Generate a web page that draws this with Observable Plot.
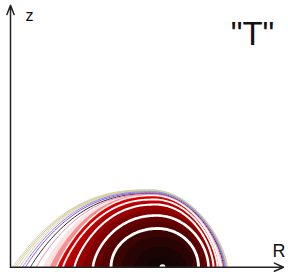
<!DOCTYPE html>
<html><head><meta charset="utf-8">
<script src="https://cdn.jsdelivr.net/npm/d3@7"></script>
<script src="https://cdn.jsdelivr.net/npm/@observablehq/plot@0.6"></script>
<style>html,body{margin:0;padding:0;background:#fff;} svg{display:block}</style>
</head><body><div id="chart"></div>
<script>
// Contours of T (outer -> inner) (R, z units = px from origin)
const contourT     = [0, .01, .02, .03, .04, .05, .06, .07, .1, .2, .3, .35, .4, .45, .5, .6, .7, .75, .8, .85, .9, .95];
const contourKind  = ["edge","edge","edge","edge","edge","edge","edge","edge",
                      "fill","fill","ring","fill","ring","fill","ring","fill","ring","fill","ring","fill","fill","fill"];
const contourLeft  = [2, 4, 6, 9, 12, 15, 20, 26, 33, 40, 46, 49.5, 52.5, 57, 64, 73, 82.5, 91, 100.5, 112, 125, 137];
const contourRight = [217, 216.5, 216, 215.5, 215, 214, 213, 212, 211, 210, 209, 208, 207, 205, 203, 200.5, 198, 193, 188, 183, 176, 168];
const contourTop   = [77.5, 77, 76.5, 76, 75.5, 74.5, 73.5, 73, 72.5, 72.2, 71.7, 69.5, 67.7, 65, 62.7, 57, 51.7, 45, 38.7, 30, 20, 10];
const contourPeak  = [140, 140, 140, 140.5, 141, 141, 141.5, 142, 142, 142.5, 143, 143.5, 144, 144.5, 145, 145.5, 146, 146.5, 147, 149, 151, 152];
const contourShape = [1, 1, .98, .96, .94, .92, .9, .88, .86, .83, .8, .76, .7, .62, .55, .4, .3, .15, 0, 0, 0, 0];
const magneticAxis = [{R: 152, z: 0}];
const axisLabels = [{R: 15, z: 246.7, text: "z", size: 16},
                    {R: 262, z: 10.7, text: "R", size: 18}];
const titleText = [{R: 242, z: 222.7, text: "\"T\""}];

// style
const edgePalette = ["#e2cf96","#a6d4f0","#f0cf45","#f4b2c8","#5b9fe0","#a945d2","#2e2e2e","#ec8cb0"];
const tStops  = [0, 0.08, 0.1, 0.2, 0.3, 0.4, 0.5, 0.6, 0.7, 0.75, 0.8, 0.85, 0.9, 1];
const tColors = ["#ffffff","#ffffff","#fde2e2","#f49090","#e40000","#c80000","#9a0000","#7e0000","#640000","#560202","#3a0404","#280404","#1a0404","#0e0303"];

const N = 50;
const pts = [];
contourT.forEach((T, i) => {
  const L = contourLeft[i], Rr = contourRight[i], H = contourTop[i], P = contourPeak[i], t = contourShape[i];
  const a = 2 + 0.5 * t, b = 0.5 + 0.5 * t, c = 2, d = 0.5 + 0.2 * t;
  for (let k = 0; k <= N; k++) {
    const v = 1 - Math.cos(k / N * Math.PI / 2);
    pts.push({id: i, T, kind: contourKind[i], R: L + v * (P - L), z: H * Math.pow(Math.max(0, 1 - Math.pow(Math.max(0, 1 - v), a)), b)});
  }
  for (let k = 1; k <= N; k++) {
    const u = Math.sin(k / N * Math.PI / 2);
    pts.push({id: i, T, kind: contourKind[i], R: P + u * (Rr - P), z: H * Math.pow(Math.max(0, 1 - Math.pow(u, c)), d)});
  }
});

const edgeMarks = contourT.map((T, i) => contourKind[i] === "edge"
  ? Plot.line(pts.filter(p => p.id === i), {x: "R", y: "z", stroke: edgePalette[i], strokeWidth: 1})
  : null).filter(Boolean);

const chart = Plot.plot({
  width: 288, height: 277, margin: 0,
  style: {fontFamily: "'Liberation Sans', Arial, sans-serif", background: "#fff"},
  x: {domain: [-10, 278], axis: null},
  y: {domain: [-10.3, 266.7], axis: null},
  color: {type: "linear", domain: tStops, range: tColors, interpolate: "rgb"},
  marks: [
    Plot.area(pts, {x1: "R", y1: () => 0, y2: "z", z: "id", fill: "T"}),
    ...edgeMarks,
    Plot.line(pts.filter(p => p.kind === "ring"), {x: "R", y: "z", z: "id", stroke: "#fff", strokeWidth: d => 0.8 + 2.6 * d.T}),
    Plot.dot(magneticAxis, {x: "R", y: "z", r: 3, fill: "#fff", stroke: null}),
    Plot.arrow([{x1: 0, y1: 0, x2: 0, y2: 262}], {x1: "x1", y1: "y1", x2: "x2", y2: "y2", stroke: "#222", strokeWidth: 1.5, headLength: 10, headAngle: 42}),
    Plot.arrow([{x1: 0, y1: 0, x2: 273, y2: 0}], {x1: "x1", y1: "y1", x2: "x2", y2: "y2", stroke: "#222", strokeWidth: 1.5, headLength: 10, headAngle: 48}),
    Plot.text(axisLabels, {x: "R", y: "z", text: "text", fontSize: d => d.size, textAnchor: "start", lineAnchor: "bottom", fill: "#111"}),
    Plot.text(titleText, {x: "R", y: "z", text: "text", fontSize: 33, textAnchor: "middle", lineAnchor: "bottom", fill: "#111"})
  ]
});
document.getElementById("chart").appendChild(chart);
</script></body></html>
